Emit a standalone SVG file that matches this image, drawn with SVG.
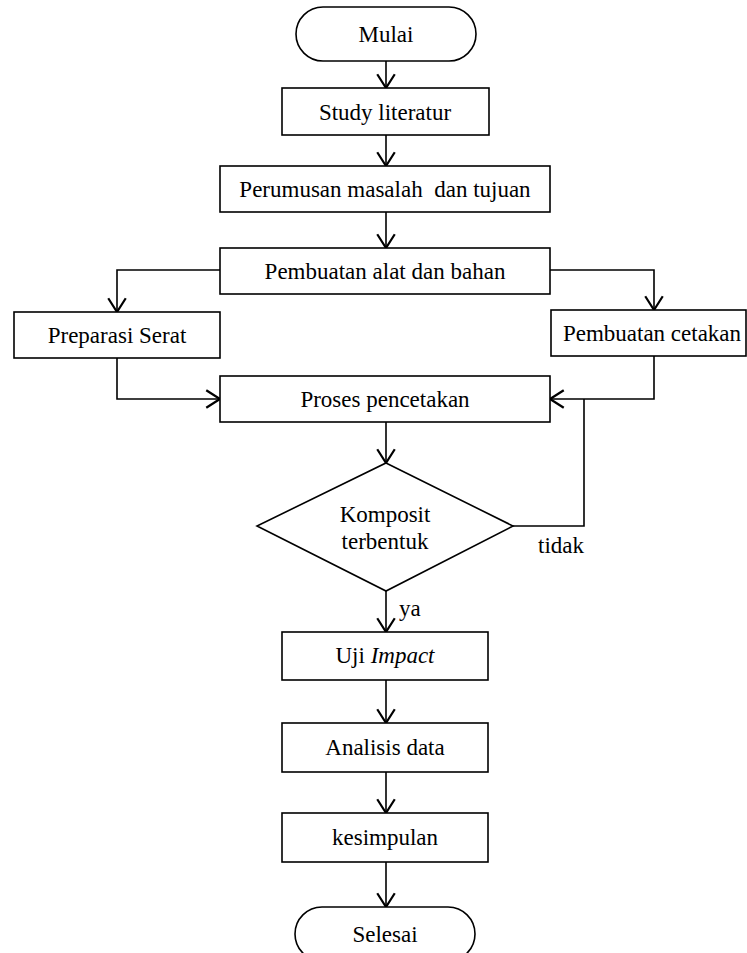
<svg xmlns="http://www.w3.org/2000/svg" width="747" height="953" viewBox="0 0 747 953">
<style>
.n{fill:#fff;stroke:#000;stroke-width:1.6}
.t{font-family:"Liberation Serif","Times New Roman",serif;font-size:23px;fill:#000;text-anchor:middle}
.l{font-family:"Liberation Serif","Times New Roman",serif;font-size:23px;fill:#000}
.c{fill:none;stroke:#000;stroke-width:1.6}
</style>
<defs>
<marker id="a" markerUnits="userSpaceOnUse" markerWidth="20" markerHeight="20" viewBox="-12 -8 14 16" refX="0" refY="0" orient="auto">
<path d="M-11,-7 L0,0 L-11,7" fill="none" stroke="#000" stroke-width="1.8"/>
</marker>
</defs>
<rect width="747" height="953" fill="#fff"/>
<g id="connectors">
<path class="c" d="M386,61 V88" marker-end="url(#a)"/>
<path class="c" d="M386,135 V166" marker-end="url(#a)"/>
<path class="c" d="M386,212 V248" marker-end="url(#a)"/>
<path class="c" d="M220,270 H117 V312" marker-end="url(#a)"/>
<path class="c" d="M550,270 H654 V310" marker-end="url(#a)"/>
<path class="c" d="M117,358 V399 H220" marker-end="url(#a)"/>
<path class="c" d="M654,356 V399 H550" marker-end="url(#a)"/>
<path class="c" d="M513,526 H584 V399"/>
<path class="c" d="M386,422 V463" marker-end="url(#a)"/>
<path class="c" d="M386,591 V632" marker-end="url(#a)"/>
<path class="c" d="M386,680 V723" marker-end="url(#a)"/>
<path class="c" d="M386,772 V813" marker-end="url(#a)"/>
<path class="c" d="M386,862 V907" marker-end="url(#a)"/>
<text class="l" x="538" y="553">tidak</text>
<text class="l" x="399" y="616">ya</text>
</g>
<g id="mulai"><rect class="n" x="296" y="7" width="180" height="54" rx="27"/><text class="t" x="386" y="42">Mulai</text></g>
<g id="study"><rect class="n" x="282" y="88" width="207" height="47"/><text class="t" x="385" y="120">Study literatur</text></g>
<g id="perumusan"><rect class="n" x="220" y="166" width="330" height="46"/><text class="t" x="385" y="197" xml:space="preserve">Perumusan masalah  dan tujuan</text></g>
<g id="pembuatan-alat"><rect class="n" x="220" y="248" width="330" height="46"/><text class="t" x="385" y="279">Pembuatan alat dan bahan</text></g>
<g id="preparasi"><rect class="n" x="14" y="312" width="206" height="46"/><text class="t" x="117" y="343">Preparasi Serat</text></g>
<g id="cetakan"><rect class="n" x="551" y="310" width="195" height="46"/><text class="t" x="652" y="341">Pembuatan cetakan</text></g>
<g id="proses"><rect class="n" x="220" y="376" width="330" height="46"/><text class="t" x="385" y="407">Proses pencetakan</text></g>
<g id="komposit"><polygon class="n" points="386,463 513,526 386,591 257,526"/><text class="t" x="385" y="522">Komposit</text><text class="t" x="385" y="549">terbentuk</text></g>
<g id="uji"><rect class="n" x="282" y="632" width="206" height="48"/><text class="t" x="385" y="663">Uji <tspan font-style="italic">Impact</tspan></text></g>
<g id="analisis"><rect class="n" x="282" y="723" width="206" height="49"/><text class="t" x="385" y="755">Analisis data</text></g>
<g id="kesimpulan"><rect class="n" x="282" y="813" width="206" height="49"/><text class="t" x="385" y="845">kesimpulan</text></g>
<g id="selesai"><rect class="n" x="295" y="907" width="180" height="54" rx="27"/><text class="t" x="385" y="942">Selesai</text></g>
</svg>
